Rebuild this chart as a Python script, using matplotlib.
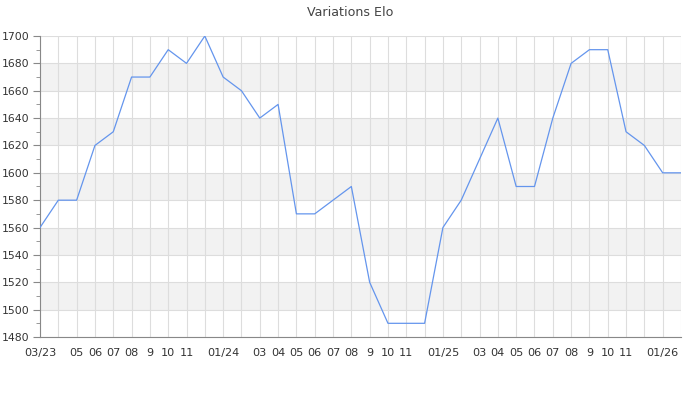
import numpy as np
from matplotlib import pyplot as plt
from matplotlib.ticker import MultipleLocator

# monthly elo, 03/23 .. 02/26
months = ['03/23', '', '05', '06', '07', '08', '9', '10', '11', '',
          '01/24', '', '03', '04', '05', '06', '07', '08', '9', '10', '11', '',
          '01/25', '', '03', '04', '05', '06', '07', '08', '9', '10', '11', '',
          '01/26', '']
elo = [1560, 1580, 1580, 1620, 1630, 1670, 1670, 1690, 1680, 1700,
       1670, 1660, 1640, 1650, 1570, 1570, 1580, 1590, 1520, 1490, 1490, 1490,
       1560, 1580, 1610, 1640, 1590, 1590, 1640, 1680, 1690, 1690, 1630, 1620,
       1600, 1600]

plt.rcParams['font.family'] = 'DejaVu Sans'
fig = plt.figure(figsize=(7, 4), dpi=100)
ax = fig.add_axes([40/700, 1-337/400, 641/700, 301/400])

x = np.arange(len(elo))
ax.set_xlim(0, len(elo)-1)
ax.set_ylim(1480, 1700)

# alternating bands
for lo in range(1500, 1700, 40):
    ax.axhspan(lo, lo+20, color='#f2f2f2', zorder=0, lw=0)

ax.plot(x, elo, color='#6495ed', lw=0.9, zorder=3)

ax.yaxis.set_major_locator(MultipleLocator(20))
ax.yaxis.set_minor_locator(MultipleLocator(10))
ax.set_xticks(x)
ax.set_xticklabels(months)
ax.grid(True, which='major', color='#dddddd', lw=0.8, zorder=1)
ax.set_axisbelow(True)

for s in ['top', 'right']:
    ax.spines[s].set_visible(False)
ax.spines['left'].set_color('#888888')
ax.spines['bottom'].set_color('#888888')
ax.tick_params(axis='y', which='major', length=5, color='#888888', labelsize=7.8,
               labelcolor='#333333', pad=2.5)
ax.tick_params(axis='y', which='minor', length=3, color='#888888')
ax.tick_params(axis='x', length=0, labelsize=8.1, labelcolor='#333333', pad=8)

fig.suptitle('Variations Elo', y=0.985, fontsize=9.1, color='#444444')
fig.savefig('out.png', dpi=100)
